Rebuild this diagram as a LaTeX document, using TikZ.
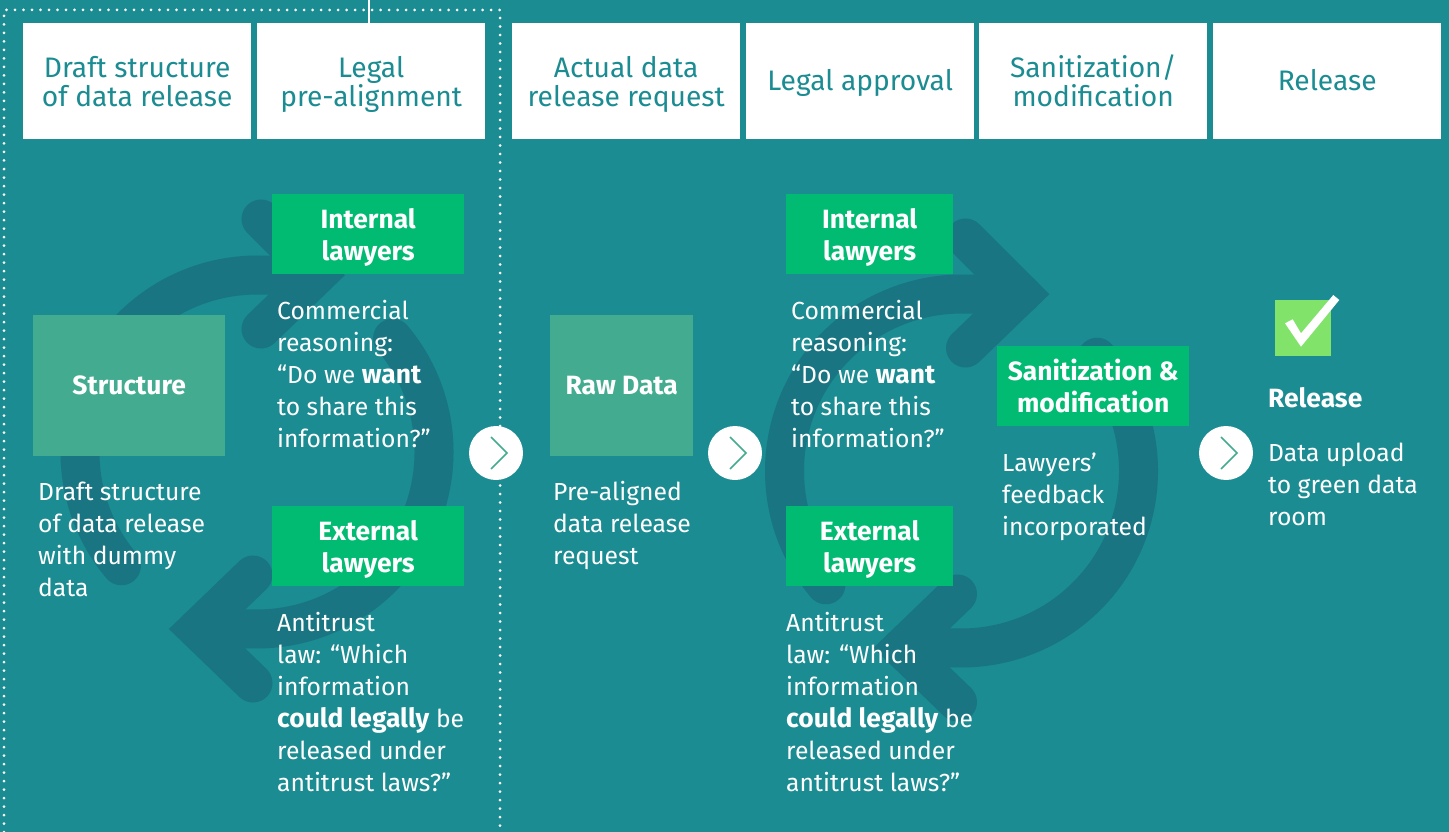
\documentclass[tikz,border=0pt]{standalone}
\usepackage{fontspec}
\setmainfont{Fira Sans}[BoldFeatures={Scale=1.07}]
\definecolor{bgteal}{HTML}{1B8C92}
\definecolor{ringteal}{HTML}{187581}
\definecolor{boxgreen}{HTML}{02BB72}
\definecolor{softgreen}{HTML}{43AC90}
\definecolor{checkgreen}{HTML}{82E36B}
\newcommand{\bodyfont}{\fontsize{24.7}{32}\selectfont}
\newcommand{\headfont}{\fontsize{28.2}{29}\selectfont}
\newcommand{\firstline}{\rule{0pt}{22pt}}
\newcommand{\boxtop}{\rule{0pt}{27pt}}
\newcommand{\headtwo}{\rule{0pt}{30pt}}
\newcommand{\lawtop}{\rule{0pt}{28pt}}
\newcommand{\softtop}{\rule{0pt}{27pt}}
\tikzset{
  ring/.style={draw=ringteal,line width=39pt,line cap=round,line join=miter,miter limit=10},
  enddepth/.style={execute at end node={\rule[-#1pt]{0pt}{#1pt}}},
  headbox/.style={fill=white,text=bgteal,minimum width=228pt,minimum height=116pt,inner sep=0pt,align=center,font=\headfont,anchor=north west,enddepth=8},
  lawbox/.style={fill=boxgreen,text=white,minimum width=192pt,minimum height=80pt,inner sep=0pt,align=center,font=\bodyfont\bfseries,anchor=north west,enddepth=8},
  softbox/.style={fill=softgreen,text=white,minimum height=141pt,inner sep=0pt,align=center,font=\bodyfont\bfseries,anchor=north west,enddepth=9},
  bodytext/.style={text=white,inner sep=0pt,align=left,font=\bodyfont,anchor=north west},
  nextdisc/.style={circle,fill=white,minimum size=54pt,inner sep=0pt},
  nextmark/.style={draw=softgreen,line width=1.5pt},
  dotline/.style={draw=white,line width=3pt,line cap=round,dash pattern=on 0pt off 8.5pt}
}
\newcommand{\cycle}[2]{%
\begin{scope}[shift={(#1,#2)},y=1pt]
  \draw[ring] (-135.6,-113.8) arc[start angle=220,end angle=90,radius=177] -- (60,177);
  \draw[ring] (4,233) -- (60,177) -- (4,123);
  \draw[ring] (135.6,113.8) arc[start angle=40,end angle=-90,radius=177] -- (-60,-177);
  \draw[ring] (-4,-123) -- (-60,-177) -- (-4,-231);
\end{scope}}
\begin{document}
\begin{tikzpicture}[x=1pt,y=-1pt]
\useasboundingbox (0,0) rectangle (1449,832);
\fill[bgteal] (0,0) rectangle (1449,832);
\cycle{257}{452}
\cycle{961.5}{471}
% dotted frame
\coordinate (fa) at (4,832);
\coordinate (fb) at (4,10);
\coordinate (fc) at (500,10);
\coordinate (fd) at (500,832);
\coordinate (ft) at (369,0);
\coordinate (fj) at (369,23);
\draw[dotline] (fa) -- (fb) -- (fc) -- (fd);
\draw[white,line width=1.8pt] (ft) -- (fj);
% headers
\node[headbox] (h1) at (23,23) {\headtwo Draft structure\\of data release};
\node[headbox] (h2) at (257,23) {\headtwo Legal\\pre-alignment};
\node[headbox] (h3) at (512,23) {\headtwo Actual data\\release request};
\node[headbox] (h4) at (746,23) {\boxtop Legal approval};
\node[headbox] (h5) at (979,23) {\headtwo Sanitization/\\modification};
\node[headbox] (h6) at (1213,23) {\boxtop Release};
% left column
\node[softbox,minimum width=192pt] (s1) at (33,315) {\softtop Structure};
\node[softbox,minimum width=143pt] (s2) at (550,315) {\softtop Raw Data};
\node[bodytext] (t1) at (38,478) {\firstline Draft structure\\of data release\\with dummy\\data};
\node[bodytext] (t2) at (553,478) {\firstline Pre-aligned\\data release\\request};
% lawyers, first cycle
\node[lawbox] (l1) at (272,194) {\lawtop Internal\\lawyers};
\node[bodytext] (c1) at (277,297) {\firstline Commercial\\reasoning:\\“Do we \textbf{want}\\to share this\\information?”};
\node[lawbox] (e1) at (272,506) {\lawtop External\\lawyers};
\node[bodytext] (a1) at (277,609) {\firstline Antitrust\\law: “Which\\information\\\textbf{could legally} be\\released under\\antitrust laws?”};
% lawyers, second cycle
\node[lawbox,minimum width=167pt] (l2) at (786,194) {\lawtop Internal\\lawyers};
\node[bodytext] (c2) at (791,297) {\firstline Commercial\\reasoning:\\“Do we \textbf{want}\\to share this\\information?”};
\node[lawbox,minimum width=167pt] (e2) at (786,506) {\lawtop External\\lawyers};
\node[bodytext] (a2) at (786,609) {\firstline Antitrust\\law: “Which\\information\\\textbf{could legally} be\\released under\\antitrust laws?”};
% sanitization
\node[lawbox] (m1) at (997,346) {\lawtop Sanitization \&\\modification};
\node[bodytext] (m2) at (1002,449) {\firstline Lawyers’\\feedback\\incorporated};
% release
\node[fill=checkgreen,minimum size=56pt,inner sep=0pt,anchor=north west] (chk) at (1275,300) {};
\fill[white] (1285,323.3) -- (1292.7,319.3) -- (1301,333.3) -- (1333.3,295) -- (1339.3,300) -- (1301,346.7) -- cycle;
\node[bodytext,font=\bodyfont\bfseries] (r1) at (1268,385) {\firstline Release};
\node[bodytext] (r2) at (1268,439) {\firstline Data upload\\to green data\\room};
% next discs
\node[nextdisc] (n1) at (496,453) {};
\node[nextdisc] (n2) at (735,453) {};
\node[nextdisc] (n3) at (1226,453) {};
\foreach \n in {n1,n2,n3}{
  \draw[nextmark] ([shift={(-5,-16)}]\n.center) -- ([shift={(11,0)}]\n.center) -- ([shift={(-5,16)}]\n.center);
}
\end{tikzpicture}
\end{document}
